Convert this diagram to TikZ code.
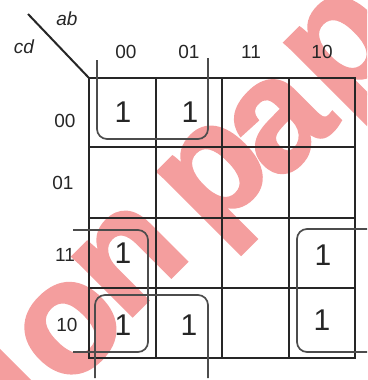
\documentclass[tikz,border=0pt]{standalone}
\usepackage{fontspec}
\setmainfont{Liberation Sans}
\newfontfamily\wmfont[BoldFeatures={FakeBold=1.5}]{Liberation Sans}
\definecolor{wmpink}{RGB}{244,158,158}
\begin{document}
\begin{tikzpicture}[x=1pt,y=-1pt,
  gridline/.style={line width=2.6pt,black!85},
  loopline/.style={line width=1.7pt,black!70,rounded corners=10pt},
  lab/.style={font=\fontsize{19}{19}\selectfont,inner sep=0pt,text=black!85},
  one/.style={font=\fontsize{30}{30}\selectfont,inner sep=0pt,text=black!85},
  varlab/.style={font=\itshape\fontsize{19}{19}\selectfont,inner sep=0pt,text=black!85},
  wm/.style={font=\wmfont\bfseries\fontsize{160}{160}\selectfont,text=wmpink,
    rotate=45,inner sep=0pt,text height=83pt,text depth=0pt}]
\useasboundingbox (0,0) rectangle (367,380);
% watermark (behind)
\begin{scope}
\clip (0,0) rectangle (367,380);
\node[wm] (wi) at (14,380) {i};
\node[wm] (wo) at (71,329) {o};
\node[wm] (wn) at (130,260) {n};
\node[wm] (wp) at (215,175) {p};
\node[wm] (wa) at (280,124) {a};
\node[wm] (wp2) at (342,46) {p};
\end{scope}
% grid
\coordinate (TL) at (89,78);
\coordinate (BR) at (355,358);
\coordinate (D0) at (28,14);
\draw[gridline] (TL) rectangle (BR);
\foreach \x in {156,222,289} \draw[gridline] (\x,78) -- (\x,358);
\foreach \y in {147,218,288} \draw[gridline] (89,\y) -- (355,\y);
\draw[line width=2pt,black!85] (D0) -- (TL);
% variable labels
\node[varlab] (ab) at (67,19) {ab};
\node[varlab] (cd) at (24,47) {cd};
% column labels
\node[lab] (c00) at (126,52) {00};
\node[lab] (c01) at (189,52) {01};
\node[lab] (c11) at (251,52) {11};
\node[lab] (c10) at (322,52) {10};
% row labels
\node[lab] (r00) at (65,121) {00};
\node[lab] (r01) at (63,183) {01};
\node[lab] (r11) at (65,255) {11};
\node[lab] (r10) at (67,325) {10};
% ones
\node[one] (m0000) at (123,112) {1};
\node[one] (m0001) at (190,112) {1};
\node[one] (m1100) at (123,253) {1};
\node[one] (m1000) at (123,325) {1};
\node[one] (m1001) at (189,325) {1};
\node[one] (m1110) at (323,255) {1};
\node[one] (m1010) at (322,320) {1};
% groups
\draw[loopline] (97,60) -- (97,139) -- (208,139) -- (208,58);
\draw[loopline] (95,378) -- (95,295) -- (208,295) -- (208,378);
\draw[loopline] (73,230) -- (148,230) -- (148,352) -- (73,352);
\draw[loopline] (367,229) -- (297,229) -- (297,352) -- (367,352);
\end{tikzpicture}
\end{document}
